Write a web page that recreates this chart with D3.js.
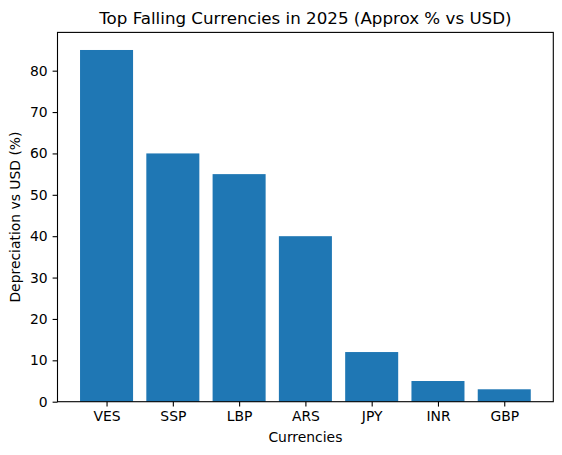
<!DOCTYPE html>
<html><head><meta charset="utf-8">
<script src="https://cdn.jsdelivr.net/npm/d3@7"></script>
<style>body{margin:0;background:#fff}text{font-family:"DejaVu Sans",sans-serif;fill:#000}</style>
</head><body>
<svg id="c" width="562" height="455"></svg>
<script>
const categories = ["VES","SSP","LBP","ARS","JPY","INR","GBP"];
const values = [85,60,55,40,12,5,3];
const yTicks = [0,10,20,30,40,50,60,70,80];
const title = "Top Falling Currencies in 2025 (Approx % vs USD)";
const xLabel = "Currencies";
const yLabel = "Depreciation vs USD (%)";

const L=57.5, R=553.3, T=32.4, B=401.7;
const svg = d3.select("#c");
const x = d3.scaleLinear().domain([-0.74, categories.length-1+0.74]).range([L,R]);
const y = d3.scaleLinear().domain([0, d3.max(values)*1.05]).range([B,T]);

svg.selectAll("rect.bar").data(values).enter().append("rect")
  .attr("class","bar")
  .attr("x",(d,i)=>x(i-0.4)).attr("width",x(0.4)-x(-0.4))
  .attr("y",d=>y(d)).attr("height",d=>B-y(d))
  .attr("fill","#1f77b4");

const yAxis = d3.axisLeft(y).tickValues(yTicks).tickSize(4.9).tickPadding(4.9).tickFormat(d3.format("d"));
const gy = svg.append("g").attr("transform",`translate(${L},0)`).call(yAxis);
const xAxis = d3.axisBottom(x).tickValues(d3.range(categories.length)).tickSize(4.9).tickPadding(4.9).tickFormat(i=>categories[i]);
const gx = svg.append("g").attr("transform",`translate(0,${B})`).call(xAxis);
[gx,gy].forEach(g=>{g.select(".domain").remove();g.selectAll(".tick line").attr("stroke","#000").attr("stroke-width",1.1);g.selectAll("text").attr("font-size",13.9).attr("font-family","DejaVu Sans");});

svg.append("rect").attr("x",L).attr("y",T).attr("width",R-L).attr("height",B-T)
  .attr("fill","none").attr("stroke","#000").attr("stroke-width",1.1);

svg.append("text").attr("x",(L+R)/2).attr("y",T-8).attr("text-anchor","middle").attr("font-size",16.7).text(title);
svg.append("text").attr("x",(L+R)/2).attr("y",442).attr("text-anchor","middle").attr("font-size",13.9).text(xLabel);
svg.append("text").attr("transform",`translate(20,${(T+B)/2}) rotate(-90)`).attr("text-anchor","middle").attr("font-size",13.9).text(yLabel);
</script>
</body></html>
